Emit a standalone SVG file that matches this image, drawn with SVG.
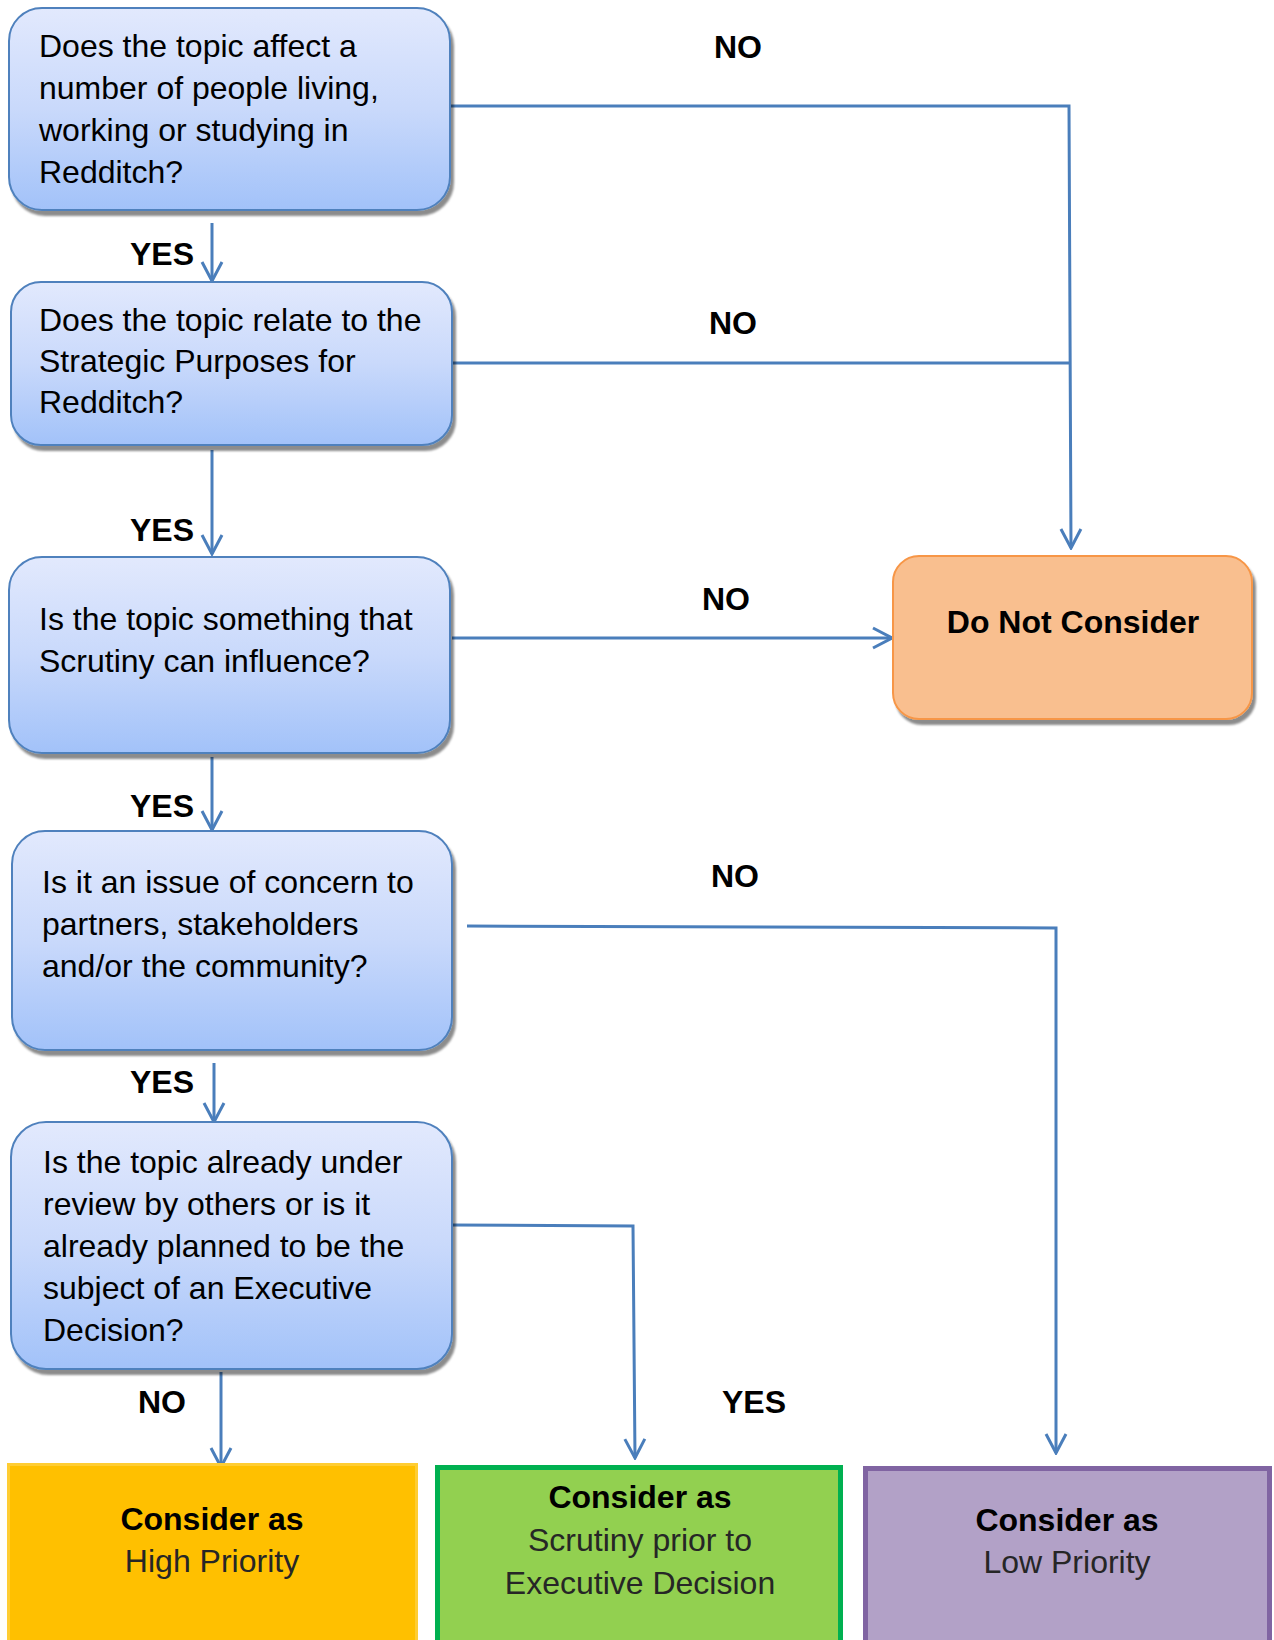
<svg xmlns="http://www.w3.org/2000/svg" width="1274" height="1640" viewBox="0 0 1274 1640">
<style>
.q{fill:url(#blue);stroke:#4F81BD;stroke-width:2;filter:url(#sh)}
.t{font-family:"Liberation Sans",Arial,sans-serif;font-size:32px;fill:#000}
.b{font-family:"Liberation Sans",Arial,sans-serif;font-size:32px;font-weight:bold;fill:#000}
.r{font-family:"Liberation Sans",Arial,sans-serif;font-size:32px;fill:#262626}
.c{fill:none;stroke:#4A7EBB;stroke-width:3}
.ca{fill:none;stroke:#4A7EBB;stroke-width:3;marker-end:url(#ah)}
</style>
<defs>
<linearGradient id="blue" x1="0" y1="0" x2="0" y2="1">
<stop offset="0" stop-color="#E2E9FD"/>
<stop offset="0.5" stop-color="#C9D9FB"/>
<stop offset="1" stop-color="#A2C2F9"/>
</linearGradient>
<filter id="sh" x="-5%" y="-5%" width="115%" height="120%">
<feDropShadow dx="3" dy="5" stdDeviation="1.2" flood-color="#000" flood-opacity="0.45"/>
</filter>
<marker id="ah" markerUnits="userSpaceOnUse" viewBox="-22 -12 24 24" refX="0" refY="0" markerWidth="24" markerHeight="24" orient="auto">
<path d="M-19,-10 L0,0 L-19,10" fill="none" stroke="#4A7EBB" stroke-width="3"/>
</marker>
</defs>
<rect width="1274" height="1640" fill="#fff"/>

<g id="connectors">
<polyline class="ca" points="450,106 1069,106 1071,548"/>
<polyline class="c" points="452,363 1069,363"/>
<polyline class="ca" points="452,638 892,638"/>
<polyline class="ca" points="467,926 1056,928 1056,1453"/>
<polyline class="ca" points="452,1225 633,1226 635,1458"/>
<line class="ca" x1="212" y1="223" x2="212" y2="281"/>
<line class="ca" x1="212" y1="450" x2="212" y2="554"/>
<line class="ca" x1="212" y1="757" x2="212" y2="830"/>
<line class="ca" x1="214" y1="1063" x2="214" y2="1122"/>
<line class="ca" x1="221" y1="1372" x2="221" y2="1467"/>
<text class="b" x="738" y="58" text-anchor="middle">NO</text>
<text class="b" x="733" y="334" text-anchor="middle">NO</text>
<text class="b" x="726" y="610" text-anchor="middle">NO</text>
<text class="b" x="735" y="887" text-anchor="middle">NO</text>
<text class="b" x="754" y="1413" text-anchor="middle">YES</text>
<text class="b" x="162" y="1413" text-anchor="middle">NO</text>
<text class="b" x="130" y="265">YES</text>
<text class="b" x="130" y="541">YES</text>
<text class="b" x="130" y="817">YES</text>
<text class="b" x="130" y="1093">YES</text>
</g>

<g id="q1">
<rect class="q" x="9" y="8" width="441" height="202" rx="33"/>
<text class="t" x="39" y="57">Does the topic affect a</text>
<text class="t" x="39" y="99">number of people living,</text>
<text class="t" x="39" y="141">working or studying in</text>
<text class="t" x="39" y="183">Redditch?</text>
</g>

<g id="q2">
<rect class="q" x="11" y="282" width="441" height="163" rx="30"/>
<text class="t" x="39" y="331">Does the topic relate to the</text>
<text class="t" x="39" y="372">Strategic Purposes for</text>
<text class="t" x="39" y="413">Redditch?</text>
</g>

<g id="q3">
<rect class="q" x="9" y="557" width="441" height="196" rx="33"/>
<text class="t" x="39" y="630">Is the topic something that</text>
<text class="t" x="39" y="672">Scrutiny can influence?</text>
</g>

<g id="q4">
<rect class="q" x="12" y="831" width="440" height="219" rx="33"/>
<text class="t" x="42" y="893">Is it an issue of concern to</text>
<text class="t" x="42" y="935">partners, stakeholders</text>
<text class="t" x="42" y="977">and/or the community?</text>
</g>

<g id="q5">
<rect class="q" x="11" y="1122" width="441" height="247" rx="35"/>
<text class="t" x="43" y="1173">Is the topic already under</text>
<text class="t" x="43" y="1215">review by others or is it</text>
<text class="t" x="43" y="1257">already planned to be the</text>
<text class="t" x="43" y="1299">subject of an Executive</text>
<text class="t" x="43" y="1341">Decision?</text>
</g>

<g id="donot">
<rect x="893" y="556" width="359" height="163" rx="26" fill="#F9BF8F" stroke="#F79646" stroke-width="2" filter="url(#sh)"/>
<text class="b" x="1073" y="633" text-anchor="middle">Do Not Consider</text>
</g>

<g id="high">
<rect x="8.5" y="1464.5" width="408" height="180" fill="#FFC000" stroke="#FFCD33" stroke-width="3"/>
<text class="b" x="212" y="1530" text-anchor="middle">Consider as</text>
<text class="r" x="212" y="1572" text-anchor="middle">High Priority</text>
</g>

<g id="scrutiny">
<rect x="437.5" y="1467.5" width="403" height="180" fill="#92D050" stroke="#00B050" stroke-width="5"/>
<text class="b" x="640" y="1508" text-anchor="middle">Consider as</text>
<text class="r" x="640" y="1551" text-anchor="middle">Scrutiny prior to</text>
<text class="r" x="640" y="1594" text-anchor="middle">Executive Decision</text>
</g>

<g id="low">
<rect x="865.5" y="1468.5" width="404" height="180" fill="#B2A1C7" stroke="#8064A2" stroke-width="5"/>
<text class="b" x="1067" y="1531" text-anchor="middle">Consider as</text>
<text class="r" x="1067" y="1573" text-anchor="middle">Low Priority</text>
</g>
</svg>
